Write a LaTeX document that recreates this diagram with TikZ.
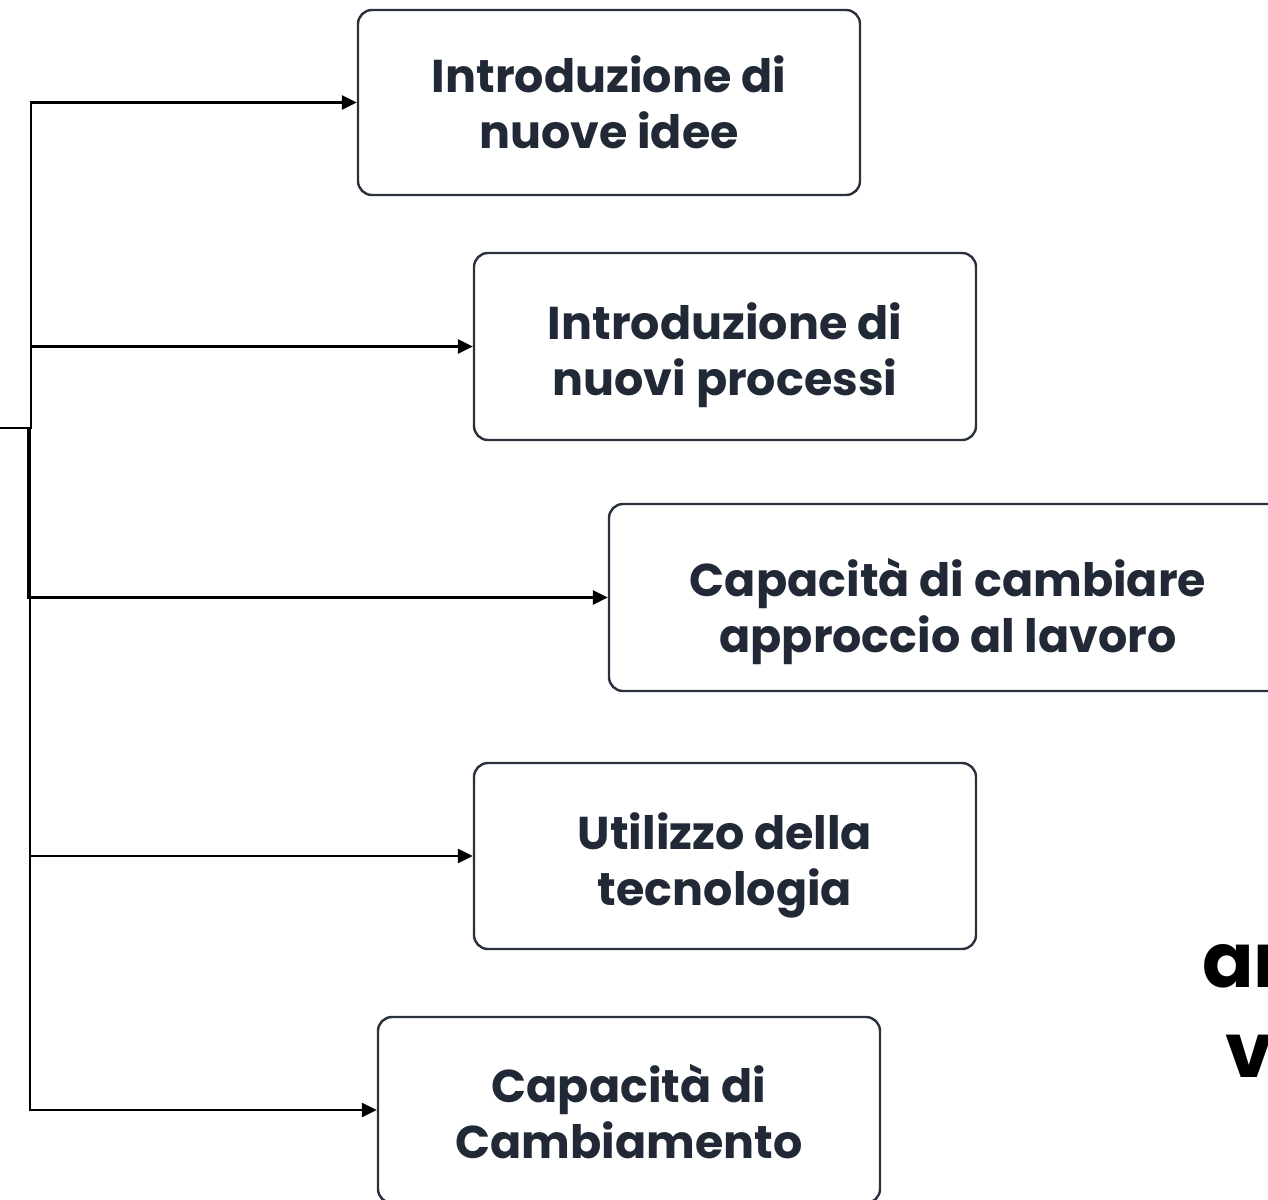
\documentclass[tikz,border=0pt]{standalone}
\usepackage{fontspec}
\setmainfont{Poppins}
\usetikzlibrary{arrows.meta}
\definecolor{txtc}{HTML}{222936}
\definecolor{bordc}{HTML}{2A313C}
\newcommand\boxlines[5][0]{%
  \node[txt] (#2a) at ([yshift=10pt-#1pt]#3.center) {#4};
  \node[txt] (#2b) at ([yshift=-46pt-#1pt]#3.center) {#5};}
\begin{document}
\begin{tikzpicture}[x=1pt,y=1pt,
  box/.style={draw=bordc,line width=2.4pt,rounded corners=14pt,fill=white,inner sep=0pt},
  txt/.style={anchor=base,text=txtc,font=\fontsize{46}{56}\selectfont\bfseries,inner sep=0pt},
  edge/.style={draw=black,line width=2.6pt,-{Triangle[length=15pt,width=14pt]}},
  big/.style={anchor=base west,text=black,font=\fontsize{76}{90}\selectfont\bfseries,inner sep=0pt}]
\useasboundingbox[fill=white] (0,0) rectangle (1268,-1199);
\node[box,minimum width=502pt,minimum height=185pt] (b1) at (609,-102.5) {};
\node[box,minimum width=502pt,minimum height=187pt] (b2) at (725,-346.5) {};
\node[box,minimum width=678pt,minimum height=187pt] (b3) at (948,-597.5) {};
\node[box,minimum width=502pt,minimum height=186pt] (b4) at (725,-856) {};
\node[box,minimum width=502pt,minimum height=186pt] (b5) at (629,-1110) {};
\boxlines{t1}{b1}{Introduzione di}{nuove idee}
\boxlines[3]{t2}{b2}{Introduzione di}{nuovi processi}
\boxlines[9]{t3}{b3}{Capacità di cambiare}{approccio al lavoro}
\boxlines[3]{t4}{b4}{Utilizzo della}{tecnologia}
\boxlines[2]{t5}{b5}{Capacità di}{Cambiamento}
\coordinate (src) at (0,-428);
\draw[edge] (src) -- (31,-428) |- (b1);
\draw[edge] (src) -- (31,-428) |- (b2);
\draw[edge] (src) -- (28,-428) |- (b3);
\draw[edge] (src) -- (30,-428) |- (b4);
\draw[edge] (src) -- (30,-428) |- (b5);
\node[big] (w1) at (1202,-987) {an};
\node[big] (w2) at (1225,-1077) {v};
\end{tikzpicture}
\end{document}
